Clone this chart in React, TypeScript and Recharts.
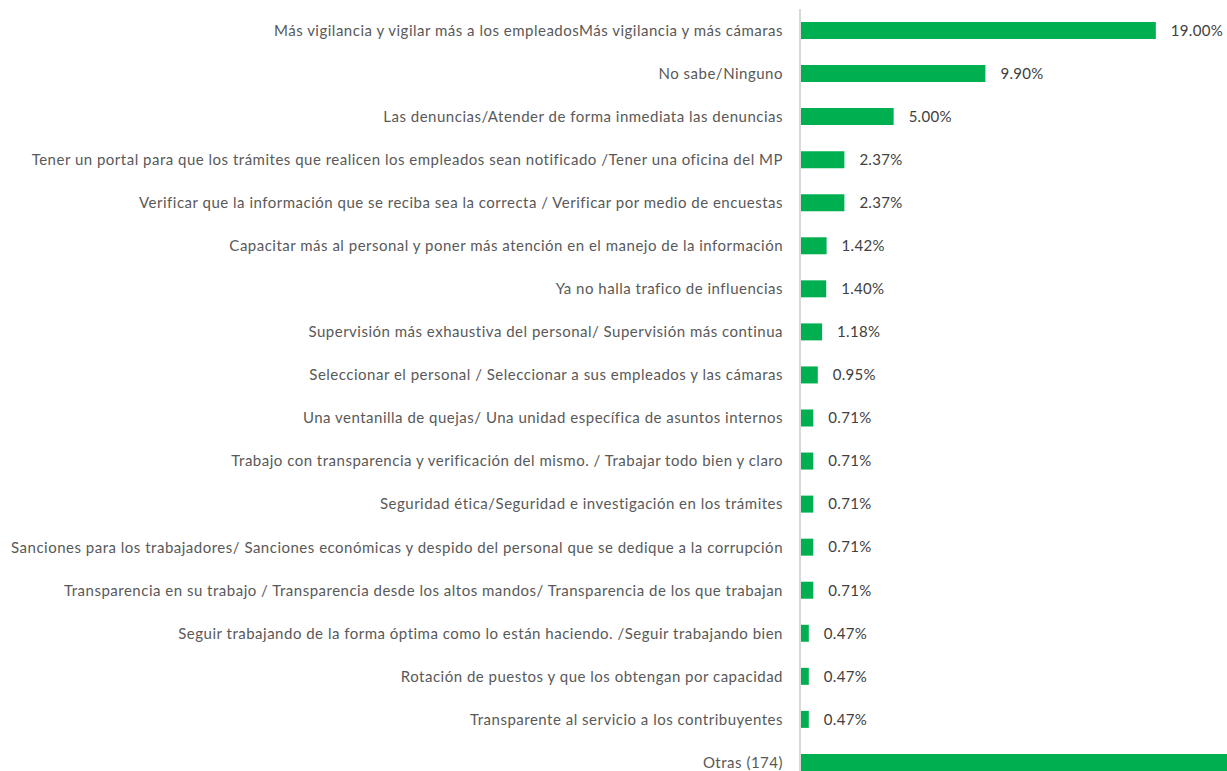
import { BarChart, Bar, XAxis, YAxis, LabelList } from 'recharts';

const categories = [
  'Más vigilancia y vigilar más a los empleadosMás vigilancia y más cámaras',
  'No sabe/Ninguno',
  'Las denuncias/Atender de forma inmediata las denuncias',
  'Tener un portal para que los trámites que realicen los empleados sean notificado /Tener una oficina del MP',
  'Verificar que la información que se reciba sea la correcta / Verificar por medio de encuestas',
  'Capacitar más al personal y poner más atención en el manejo de la información',
  'Ya no halla trafico de influencias ',
  'Supervisión más exhaustiva del personal/ Supervisión más continua',
  'Seleccionar el personal / Seleccionar a sus empleados y las cámaras',
  'Una ventanilla de quejas/ Una unidad específica de asuntos internos',
  'Trabajo con transparencia y verificación del mismo. / Trabajar todo bien y claro',
  'Seguridad ética/Seguridad e investigación en los trámites',
  'Sanciones para los trabajadores/ Sanciones económicas y despido del personal que se dedique a la corrupción',
  'Transparencia en su trabajo / Transparencia desde los altos mandos/ Transparencia de los que trabajan',
  'Seguir trabajando de la forma óptima como lo están haciendo. /Seguir trabajando bien',
  'Rotación de puestos y que los obtengan por capacidad',
  'Transparente al servicio a los contribuyentes',
  'Otras (174)',
];

const values = [
  19.0, 9.9, 5.0, 2.37, 2.37, 1.42, 1.4, 1.18, 0.95, 0.71, 0.71, 0.71, 0.71, 0.71, 0.47, 0.47, 0.47, 51.45,
];

const AXIS_MAX = 22.8;

const data = categories.map((name, i) => ({ name, value: values[i] }));

const FONT = 'Lato, "Liberation Sans", sans-serif';

export default function App() {
  return (
    <div style={{ width: 1227, height: 771, overflow: 'hidden', background: '#fff' }}>
      <style>{'body{margin:0}'}</style>
      <BarChart
        width={1227}
        height={784}
        data={data}
        layout="vertical"
        margin={{ top: 9, right: 0, left: 0, bottom: 0 }}
        barSize={17}
      >
        <XAxis type="number" hide domain={[0, AXIS_MAX]} allowDataOverflow />
        <YAxis
          type="category"
          dataKey="name"
          width={800}
          interval={0}
          tickLine={false}
          tickSize={0}
          tickMargin={17}
          axisLine={{ stroke: '#d9d9d9', strokeWidth: 2 }}
          tick={{ fontSize: 15, fill: '#595959', fontFamily: FONT, letterSpacing: 0.5 }}
        />
        <Bar dataKey="value" fill="#00b050" isAnimationActive={false}>
          <LabelList
            dataKey="value"
            position="right"
            offset={15}
            formatter={(v: number) => (v > AXIS_MAX ? '' : v.toFixed(2) + '%')}
            style={{ fontSize: 15, fill: '#404040', fontFamily: FONT, letterSpacing: 0.3 }}
          />
        </Bar>
      </BarChart>
    </div>
  );
}
